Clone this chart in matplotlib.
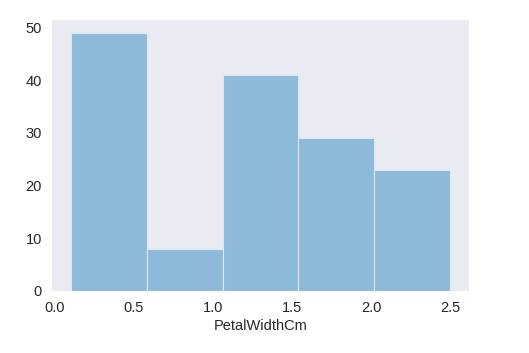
import matplotlib.pyplot as plt
import numpy as np

# iris PetalWidthCm histogram, 5 bins
bin_edges = [0.1, 0.58, 1.06, 1.54, 2.02, 2.5]
counts = [49, 8, 41, 29, 23]
xticks = [0.0, 0.5, 1.0, 1.5, 2.0, 2.5]
yticks = [0, 10, 20, 30, 40, 50]

plt.rcParams['font.family'] = ['Liberation Sans', 'DejaVu Sans']

fig = plt.figure(figsize=(5.29, 3.53), dpi=100)
ax = fig.add_axes([0.098, 0.176, 0.789, 0.768])
ax.set_facecolor('#EAEAF2')
for s in ax.spines.values():
    s.set_visible(False)

widths = np.diff(bin_edges)
ax.bar(bin_edges[:-1], counts, width=widths, align='edge',
       color='#8DB9DA', edgecolor='#DCE8F2', linewidth=0.8)

ax.set_xlim(-0.02, 2.62)
ax.set_ylim(0, 51.45)
ax.set_xticks(xticks)
ax.set_yticks(yticks)
ax.tick_params(length=0, labelsize=10.5, labelcolor='#262626', pad=7)
ax.set_xlabel('PetalWidthCm', fontsize=10.5, color='#262626', labelpad=3)

fig.savefig('out.png', dpi=100)
